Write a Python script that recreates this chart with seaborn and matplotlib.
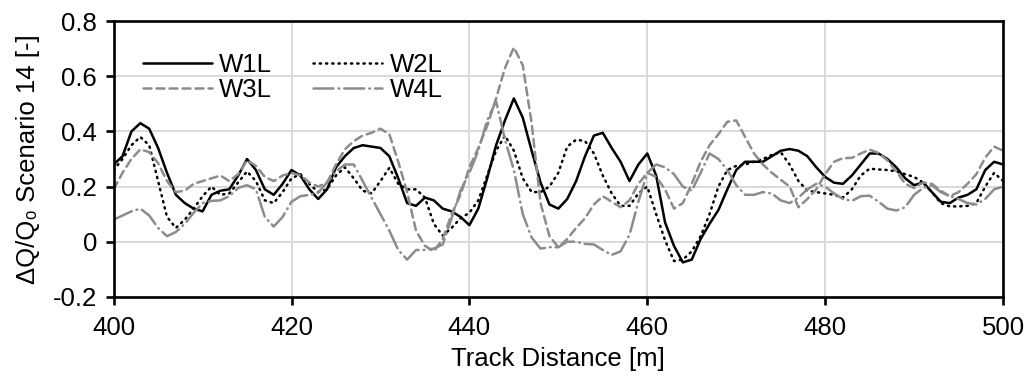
import numpy as np
import pandas as pd
import seaborn as sns
import matplotlib
matplotlib.use("Agg")
import matplotlib.pyplot as plt
from matplotlib.ticker import FuncFormatter

# track distance [m], one sample per metre
distance = list(range(400, 501))

w1l = [0.28, 0.31, 0.40, 0.43, 0.41, 0.34, 0.25, 0.17, 0.14, 0.12,
       0.11, 0.17, 0.185, 0.19, 0.24, 0.30, 0.26, 0.19, 0.17, 0.21,
       0.26, 0.24, 0.19, 0.155, 0.19, 0.27, 0.31, 0.34, 0.35, 0.345,
       0.34, 0.31, 0.23, 0.14, 0.13, 0.16, 0.15, 0.12, 0.11, 0.09,
       0.06, 0.12, 0.23, 0.35, 0.44, 0.52, 0.45, 0.33, 0.215, 0.135,
       0.12, 0.155, 0.22, 0.31, 0.385, 0.395, 0.34, 0.29, 0.22, 0.28,
       0.32, 0.24, 0.07, -0.015, -0.075, -0.065, 0.01, 0.065, 0.115, 0.19,
       0.26, 0.29, 0.29, 0.29, 0.31, 0.33, 0.336, 0.33, 0.31, 0.27,
       0.235, 0.214, 0.21, 0.24, 0.28, 0.32, 0.32, 0.30, 0.27, 0.23,
       0.205, 0.215, 0.18, 0.145, 0.14, 0.16, 0.17, 0.19, 0.26, 0.29,
       0.28]

w2l = [0.26, 0.30, 0.35, 0.38, 0.35, 0.22, 0.09, 0.05, 0.08, 0.12,
       0.165, 0.20, 0.17, 0.175, 0.215, 0.255, 0.22, 0.15, 0.14, 0.18,
       0.23, 0.245, 0.21, 0.18, 0.19, 0.24, 0.27, 0.23, 0.185, 0.175,
       0.22, 0.268, 0.21, 0.19, 0.19, 0.16, 0.065, 0.022, 0.05, 0.085,
       0.105, 0.15, 0.24, 0.33, 0.385, 0.33, 0.23, 0.18, 0.18, 0.20,
       0.25, 0.345, 0.37, 0.365, 0.32, 0.24, 0.175, 0.13, 0.13, 0.175,
       0.20, 0.10, 0.005, -0.07, -0.065, -0.035, 0.02, 0.10, 0.20, 0.26,
       0.275, 0.28, 0.29, 0.30, 0.315, 0.325, 0.28, 0.22, 0.185, 0.18,
       0.175, 0.17, 0.16, 0.19, 0.24, 0.265, 0.262, 0.26, 0.255, 0.245,
       0.235, 0.215, 0.18, 0.14, 0.128, 0.128, 0.13, 0.14, 0.20, 0.25,
       0.22]

w3l = [0.19, 0.25, 0.30, 0.335, 0.325, 0.285, 0.22, 0.18, 0.185, 0.21,
       0.22, 0.23, 0.24, 0.22, 0.245, 0.295, 0.275, 0.235, 0.22, 0.24,
       0.25, 0.24, 0.215, 0.20, 0.215, 0.28, 0.335, 0.365, 0.385, 0.395,
       0.41, 0.39, 0.29, 0.18, 0.04, -0.015, -0.035, 0.01, 0.10, 0.17,
       0.27, 0.34, 0.42, 0.52, 0.63, 0.705, 0.64, 0.43, 0.14, 0.02,
       -0.02, 0.01, 0.05, 0.085, 0.135, 0.165, 0.145, 0.125, 0.15, 0.21,
       0.25, 0.235, 0.19, 0.12, 0.14, 0.21, 0.29, 0.35, 0.39, 0.435,
       0.44, 0.38, 0.32, 0.28, 0.25, 0.225, 0.20, 0.125, 0.155, 0.19,
       0.245, 0.29, 0.303, 0.304, 0.32, 0.334, 0.322, 0.295, 0.255, 0.21,
       0.195, 0.215, 0.21, 0.185, 0.165, 0.18, 0.21, 0.245, 0.305, 0.345,
       0.33]

w4l = [0.08, 0.095, 0.11, 0.12, 0.095, 0.05, 0.02, 0.035, 0.065, 0.105,
       0.14, 0.148, 0.15, 0.165, 0.195, 0.205, 0.19, 0.09, 0.055, 0.09,
       0.145, 0.165, 0.17, 0.178, 0.215, 0.255, 0.28, 0.28, 0.22, 0.16,
       0.10, 0.04, -0.03, -0.065, -0.03, -0.03, -0.025, -0.01, 0.085, 0.185,
       0.25, 0.33, 0.44, 0.51, 0.37, 0.26, 0.10, 0.015, -0.025, -0.02,
       -0.02, 0.0, 0.0, -0.008, -0.01, -0.03, -0.048, -0.035, 0.025, 0.145,
       0.25, 0.28, 0.27, 0.245, 0.20, 0.185, 0.25, 0.32, 0.30, 0.26,
       0.205, 0.17, 0.17, 0.18, 0.175, 0.15, 0.14, 0.16, 0.19, 0.21,
       0.20, 0.175, 0.155, 0.148, 0.165, 0.167, 0.145, 0.12, 0.113, 0.125,
       0.17, 0.195, 0.205, 0.18, 0.165, 0.155, 0.14, 0.135, 0.155, 0.19,
       0.20]

series_names = ["W1L", "W2L", "W3L", "W4L"]

df = pd.DataFrame({"distance": distance, "W1L": w1l, "W2L": w2l,
                   "W3L": w3l, "W4L": w4l})
long_df = df.melt(id_vars="distance", var_name="series", value_name="dq")

sns.set_style("ticks")
plt.rcParams["font.family"] = ["Liberation Sans", "DejaVu Sans"]
plt.rcParams["axes.unicode_minus"] = False
plt.rcParams["lines.dash_capstyle"] = "round"
for key in ["text.color", "axes.labelcolor", "xtick.color", "ytick.color"]:
    plt.rcParams[key] = "black"

FS = 18.5
palette = {"W1L": "black", "W2L": "black", "W3L": "#8c8c8c", "W4L": "#8c8c8c"}
dashes = {"W1L": "", "W2L": (0.5, 2.0), "W3L": (3.2, 2.0), "W4L": (8, 2.0, 0.3, 2.0)}

fig = plt.figure(figsize=(10.33, 3.85), dpi=100)
ax = fig.add_axes([0.110, 0.229, 0.861, 0.716])

sns.lineplot(data=long_df, x="distance", y="dq", hue="series", style="series",
             hue_order=series_names, style_order=series_names,
             palette=palette, dashes=dashes, linewidth=1.8, legend=False, ax=ax)

ax.set_xlim(400, 500)
ax.set_ylim(-0.2, 0.8)
ax.set_xticks(range(400, 501, 20))
ax.set_yticks(np.arange(-0.2, 0.81, 0.2))
ax.yaxis.set_major_formatter(FuncFormatter(lambda v, p: f"{round(v, 1):g}"))
ax.grid(True, color="#d9d9d9", linewidth=1.4)
ax.set_axisbelow(True)

for side in ["left", "bottom", "top", "right"]:
    ax.spines[side].set_visible(True)
    ax.spines[side].set_color("black")
    ax.spines[side].set_linewidth(1.9)

ax.tick_params(axis="both", labelsize=FS, length=6, width=1.9, color="black",
               direction="out")
ax.tick_params(axis="x", pad=8)
ax.tick_params(axis="y", pad=6)
ax.set_xlabel("Track Distance [m]", fontsize=FS, labelpad=5)
ax.set_ylabel("ΔQ/Q₀ Scenario 14 [-]", fontsize=FS, labelpad=9)

lines = ax.get_lines()[:4]
order = [0, 2, 1, 3]
ax.legend([lines[i] for i in order], [series_names[i] for i in order],
          ncol=2, frameon=False, fontsize=FS, loc="upper left",
          bbox_to_anchor=(0.024, 0.912), borderpad=0.3, borderaxespad=0,
          handlelength=2.7, handletextpad=0.27, columnspacing=1.6,
          labelspacing=0.05)

fig.savefig("out.png", dpi=100)
